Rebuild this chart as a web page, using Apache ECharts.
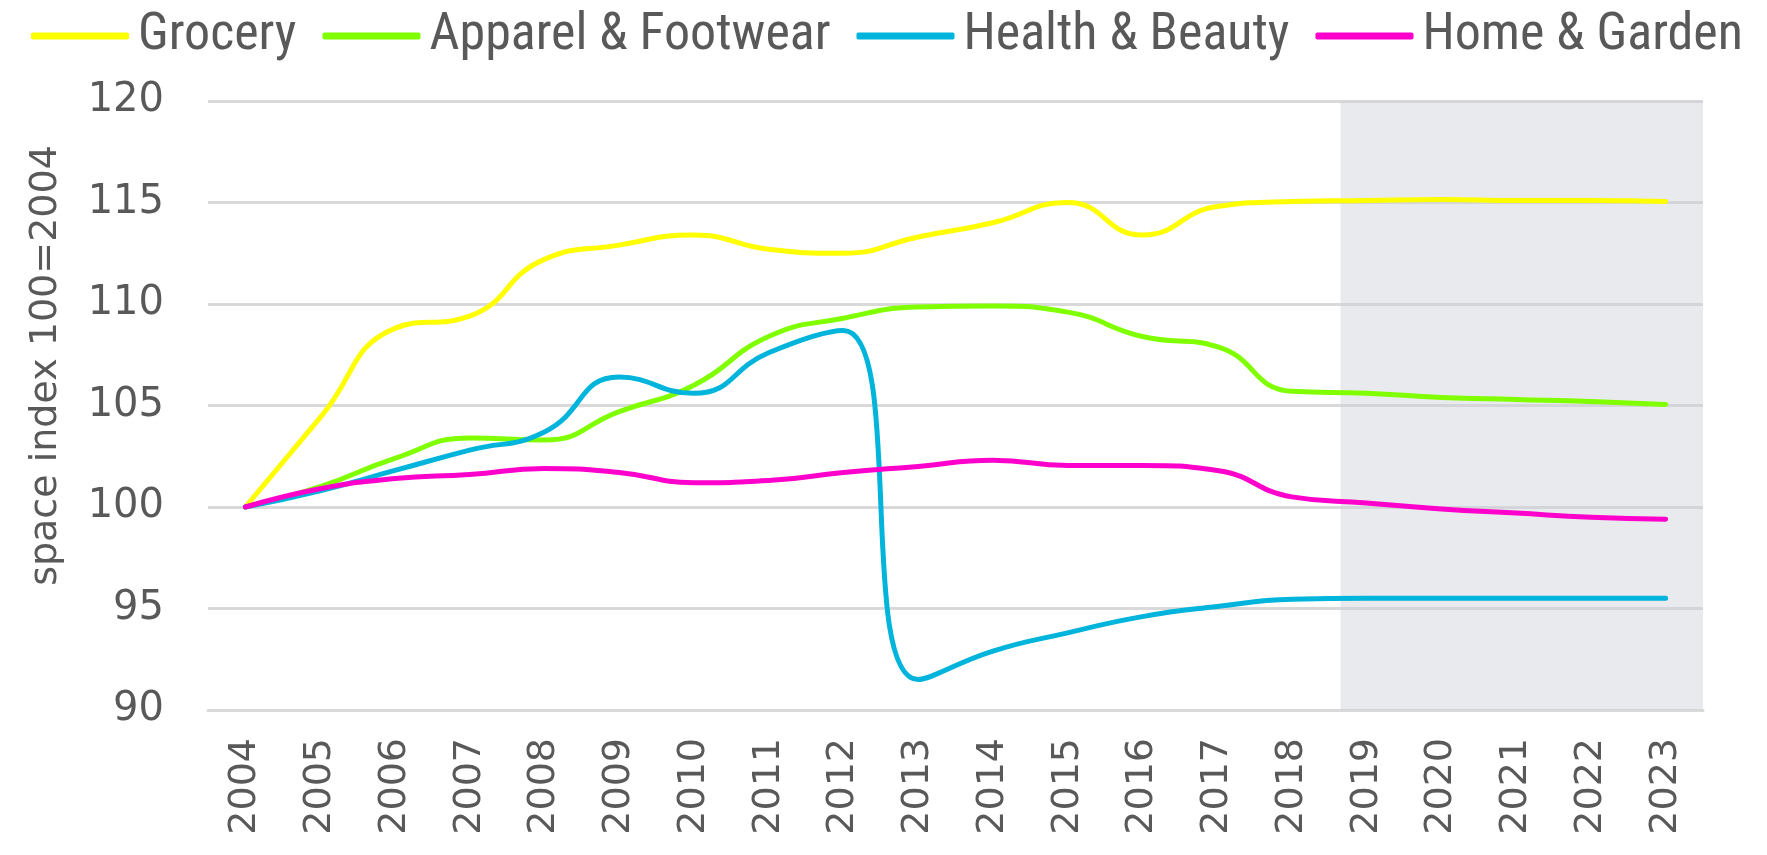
<!DOCTYPE html>
<html><head><meta charset="utf-8">
<script src="https://cdn.jsdelivr.net/npm/echarts@6/dist/echarts.min.js"></script>
<style>html,body{margin:0;padding:0;background:#fff}#c{width:1767px;height:855px}</style>
</head><body><div id="c"></div>
<script>
const years = ['2004','2005','2006','2007','2008','2009','2010','2011','2012','2013','2014','2015','2016','2017','2018','2019','2020','2021','2022','2023'];
const grocery = [100,104.4,108.8,109.4,112.2,112.9,113.4,112.7,112.5,113.3,114.0,115.0,113.4,114.8,115.05,115.1,115.15,115.1,115.1,115.05];
const apparel = [100,101.0,102.4,103.4,103.3,104.7,106.0,108.4,109.3,109.85,109.9,109.6,108.4,107.9,105.7,105.6,105.4,105.3,105.2,105.05];
const health  = [100,100.8,101.8,102.8,103.7,106.4,105.6,107.6,108.7,91.5,92.9,93.8,94.6,95.1,95.45,95.5,95.5,95.5,95.5,95.5];
const home    = [100,100.9,101.4,101.6,101.9,101.7,101.2,101.3,101.7,102.0,102.3,102.05,102.05,101.8,100.5,100.2,99.9,99.7,99.5,99.4];
const seriesNames = ['Grocery','Apparel & Footwear','Health & Beauty','Home & Garden'];
const shadeFrom = 14.65, shadeTo = 19.5; // forecast region, in category-index units

const colors = ['#ffff00','#80ff00','#00b4dc','#ff00cc'];
const font = "'Liberation Sans Narrow','Roboto Condensed','Open Sans',sans-serif";
const chart = echarts.init(document.getElementById('c'));
const mk = (name, data, i) => ({
  name, type:'line', data, smooth:0.5, symbol:'none',
  lineStyle:{width:5, color:colors[i], cap:'round'}, itemStyle:{color:colors[i]}, z:3
});
chart.setOption({
  animation:false,
  legend:{top:5,left:26,itemWidth:98,itemHeight:7,itemGap:26,icon:'roundRect',
    textStyle:{fontFamily:font,fontSize:52,color:'#595959',padding:[0,0,0,4]},
    data:seriesNames},
  grid:{left:208,right:64,top:101,bottom:145},
  xAxis:[{type:'category',data:years,boundaryGap:true,
    axisLine:{show:true,lineStyle:{color:'#d9d9d9',width:3}},axisTick:{show:false},
    axisLabel:{rotate:90,fontSize:38,color:'#595959',fontFamily:'DejaVu Sans',margin:28}},
   {type:'value',min:-0.5,max:19.5,show:false}],
  yAxis:{type:'value',min:90,max:120,interval:5,
    name:'space index 100=2004',nameLocation:'middle',nameGap:143,
    nameTextStyle:{fontSize:38,color:'#595959',fontFamily:'DejaVu Sans',padding:[0,0,0,80]},
    axisLine:{show:false},axisTick:{show:false},
    axisLabel:{fontSize:40,color:'#595959',fontFamily:'DejaVu Sans',margin:44},
    splitLine:{lineStyle:{color:'#d9d9d9',width:3}}},
  series:[
    {type:'line',xAxisIndex:1,data:[],silent:true,
     markArea:{silent:true,itemStyle:{color:'rgba(205,208,214,0.45)'},
       data:[[{xAxis:shadeFrom,yAxis:120},{xAxis:shadeTo,yAxis:90}]]}},
    mk(seriesNames[0],grocery,0),
    mk(seriesNames[1],apparel,1),
    mk(seriesNames[2],health,2),
    mk(seriesNames[3],home,3)
  ]
});
</script></body></html>
